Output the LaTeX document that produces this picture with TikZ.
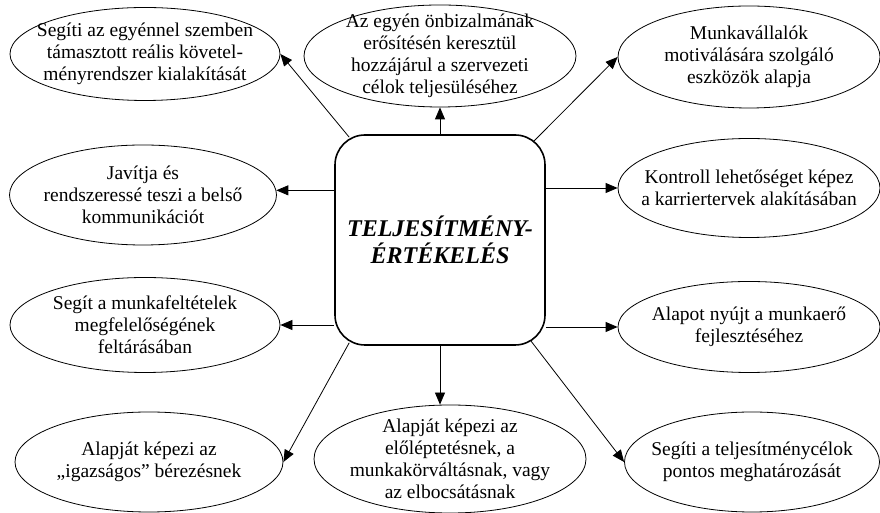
\documentclass[tikz,border=0pt]{standalone}
\usepackage{fontspec}
\setmainfont{Liberation Serif}
\usepackage{tikz}
\usetikzlibrary{shapes.geometric}
\usetikzlibrary{arrows.meta}
\usetikzlibrary{calc}

\begin{document}
\begin{tikzpicture}[x=1pt,y=1pt,
    buborek/.style={draw,ellipse,line width=0.8pt,minimum width=268pt,minimum height=98pt,inner sep=0pt},
    szoveg/.style={align=center,font=\fontsize{19.5}{22}\selectfont,inner sep=0pt},
    nyil/.style={line width=0.8pt,-{Triangle[length=12pt,width=10pt]}}]
    \useasboundingbox (0,0) rectangle (880,513);
    % Kozepso doboz
    \node[draw,line width=1.6pt,rounded corners=30pt,minimum width=210pt,minimum height=210pt,
        align=center,font=\fontsize{24}{27}\selectfont\bfseries\itshape] (kozep) at (440,273) {TELJESÍTMÉNY-\\ÉRTÉKELÉS};
    % Ellipszisek
    \node[buborek,minimum width=270pt,minimum height=93pt] (e1) at (145,459) {};
    \node[buborek,minimum width=272pt,minimum height=102pt] (e2) at (440,457) {};
    \node[buborek,minimum width=262pt,minimum height=102pt] (e3) at (749,456) {};
    \node[buborek,minimum width=267pt,minimum height=100pt] (e4) at (143,318) {};
    \node[buborek,minimum width=262pt,minimum height=99pt] (e5) at (749,325) {};
    \node[buborek,minimum width=270pt,minimum height=95pt] (e6) at (145,188) {};
    \node[buborek,minimum width=262pt,minimum height=91pt] (e7) at (749,186) {};
    \node[buborek,minimum width=268pt,minimum height=100pt] (e8) at (149,51) {};
    \node[buborek,minimum width=272pt,minimum height=108pt] (e9) at (450,54) {};
    \node[buborek,minimum width=255pt,minimum height=100pt] (e10) at (752,51) {};
    % Szovegek
    \node[szoveg] (t1) at (e1) {Segíti az egyénnel szemben\\támasztott reális követel-\\ményrendszer kialakítását};
    \node[szoveg] (t2) at (e2) {Az egyén önbizalmának\\erősítésén keresztül\\hozzájárul a szervezeti\\célok teljesüléséhez};
    \node[szoveg] (t3) at (e3) {Munkavállalók\\motiválására szolgáló\\eszközök alapja};
    \node[szoveg] (t4) at (e4) {Javítja és\\rendszeressé teszi a belső\\kommunikációt};
    \node[szoveg] (t5) at (e5) {Kontroll lehetőséget képez\\a karriertervek alakításában};
    \node[szoveg] (t6) at (e6) {Segít a munkafeltételek\\megfelelőségének\\feltárásában};
    \node[szoveg] (t7) at (e7) {Alapot nyújt a munkaerő\\fejlesztéséhez};
    \node[szoveg] (t8) at (e8) {Alapját képezi az\\„igazságos” bérezésnek};
    \node[szoveg] (t9) at (e9) {Alapját képezi az\\előléptetésnek, a\\munkakörváltásnak, vagy\\az elbocsátásnak};
    \node[szoveg] (t10) at (e10) {Segíti a teljesítménycélok\\pontos meghatározását};
    % Nyilak
    \draw[nyil] ($(kozep.north west)+(15,-3)$) -- (e1.east);
    \draw[nyil] (kozep.north) -- (e2.south);
    \draw[nyil] ($(kozep.north east)+(-12,-7)$) -- (e3.west);
    \draw[nyil] (kozep.west |- e4.2) -- (e4.2);
    \draw[nyil] (kozep.east |- e5.west) -- (e5.west);
    \draw[nyil] (kozep.west |- e6.east) -- (e6.east);
    \draw[nyil] (kozep.east |- e7.west) -- (e7.west);
    \draw[nyil] ($(kozep.south west)+(15,3)$) -- (e8.east);
    \draw[nyil] (kozep.south) -- (kozep.south |- e9.north);
    \draw[nyil] ($(kozep.south east)+(-15,5)$) -- (e10.west);
\end{tikzpicture}
\end{document}
